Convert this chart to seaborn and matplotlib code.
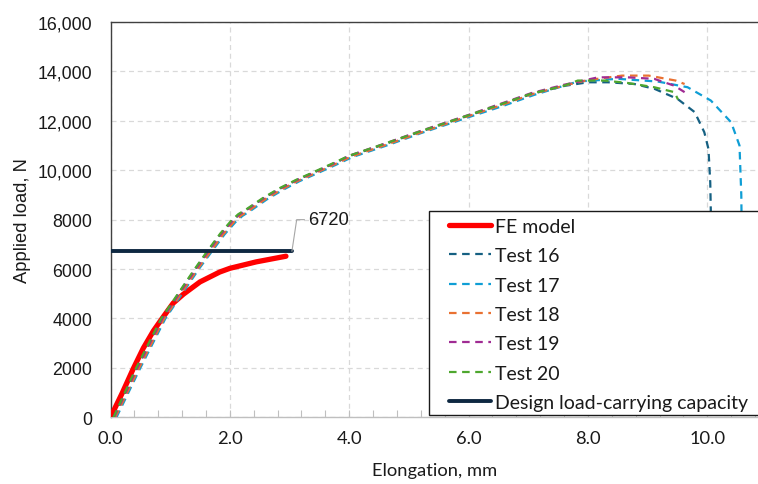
import matplotlib
matplotlib.use("Agg")
import matplotlib.pyplot as plt
from matplotlib.ticker import MultipleLocator, FixedLocator
from matplotlib.patches import Rectangle
import seaborn as sns
import pandas as pd

# ---- data -------------------------------------------------------------
fe_x = [0.00, 0.20, 0.38, 0.55, 0.72, 0.88, 1.05, 1.22, 1.50, 1.83, 2.00, 2.44, 2.94]
fe_y = [0, 1000, 1960, 2800, 3500, 4050, 4620, 4980, 5480, 5880, 6030, 6290, 6520]

t16_x = [0.05, 0.44, 0.86, 1.14, 1.42, 1.63, 1.85, 2.03, 2.15, 2.28, 2.56, 2.84, 3.12,
         3.40, 3.79, 4.00, 4.60, 5.17, 6.00, 6.50, 7.06, 7.62, 8.00, 8.34, 8.78, 9.12,
         9.50, 9.79, 9.95, 10.02, 10.05, 10.07]
t16_y = [0, 2000, 4000, 5000, 6000, 6720, 7430, 7930, 8200, 8400, 8860, 9260, 9600,
         9900, 10330, 10570, 11060, 11540, 12210, 12620, 13090, 13420, 13560, 13560,
         13490, 13290, 12890, 12350, 11540, 10860, 9500, 7000]

t17_x = [0.10, 0.50, 0.92, 1.20, 1.48, 1.70, 1.91, 2.09, 2.21, 2.34, 2.62, 2.90, 3.17,
         3.45, 3.84, 4.05, 4.65, 5.20, 6.03, 6.55, 7.10, 7.83, 8.50, 9.17, 9.67, 10.06,
         10.40, 10.54, 10.57, 10.58]
t17_y = [0, 2000, 4000, 5000, 6000, 6720, 7400, 7890, 8150, 8350, 8820, 9220, 9560,
         9860, 10290, 10530, 11020, 11500, 12170, 12580, 13050, 13590, 13700, 13590,
         13360, 12820, 11940, 11000, 9000, 7000]

t18_x = [0.08, 0.48, 0.90, 1.18, 1.46, 1.68, 1.89, 2.07, 2.19, 2.32, 2.60, 2.88, 3.15,
         3.43, 3.82, 4.03, 4.63, 5.19, 6.01, 6.52, 7.08, 7.64, 8.00, 8.57, 9.02, 9.47,
         9.62]
t18_y = [0, 2000, 4000, 5000, 6000, 6720, 7410, 7910, 8170, 8370, 8840, 9240, 9580,
         9880, 10310, 10550, 11040, 11520, 12200, 12610, 13090, 13450, 13650, 13830,
         13830, 13630, 13490]

t19_x = [0.06, 0.45, 0.87, 1.15, 1.43, 1.64, 1.86, 2.04, 2.16, 2.29, 2.57, 2.85, 3.13,
         3.41, 3.80, 4.00, 4.60, 5.16, 5.99, 6.49, 7.05, 7.60, 8.17, 8.67, 9.11, 9.45,
         9.62]
t19_y = [0, 2000, 4000, 5000, 6000, 6720, 7440, 7940, 8210, 8410, 8870, 9270, 9610,
         9910, 10340, 10590, 11080, 11560, 12230, 12650, 13120, 13460, 13760, 13760,
         13700, 13420, 13160]

t20_x = [0.05, 0.43, 0.85, 1.13, 1.41, 1.62, 1.84, 2.02, 2.14, 2.27, 2.55, 2.83, 3.11,
         3.39, 3.78, 3.99, 4.59, 5.16, 5.99, 6.49, 7.05, 7.61, 7.83, 8.28, 8.67, 9.11,
         9.45, 9.51]
t20_y = [0, 2000, 4000, 5000, 6000, 6720, 7440, 7950, 8220, 8410, 8870, 9270, 9610,
         9910, 10340, 10580, 11070, 11550, 12220, 12630, 13100, 13430, 13630, 13630,
         13530, 13360, 13160, 12860]

capacity = 6720
design_x = [0.0, 3.04]

series = [
    ("Test 16", t16_x, t16_y, "#156082"),
    ("Test 17", t17_x, t17_y, "#0F9ED5"),
    ("Test 18", t18_x, t18_y, "#E97132"),
    ("Test 19", t19_x, t19_y, "#A02B93"),
    ("Test 20", t20_x, t20_y, "#4EA72E"),
]

x_ticks = [0, 2, 4, 6, 8, 10]
x_tick_labels = ["0.0", "2.0", "4.0", "6.0", "8.0", "10.0"]
y_ticks = [0, 2000, 4000, 6000, 8000, 10000, 12000, 14000, 16000]
y_tick_labels = ["0", "2000", "4000", "6000", "8000", "10,000", "12,000", "14,000", "16,000"]

# ---- styling ----------------------------------------------------------
sns.set_style("white")
plt.rcParams["font.family"] = ["Lato", "DejaVu Sans"]
ARIAL = "Liberation Sans"
NARROW = "Lato"
INK = "#1a1a1a"

fig = plt.figure(figsize=(7.58, 4.85), dpi=100)
ax = fig.add_axes([110.5 / 758, (485 - 418.3) / 485, 1 - 110.5 / 758, (418.3 - 23) / 485])

# ---- curves -----------------------------------------------------------
sns.lineplot(data=pd.DataFrame({"x": fe_x, "y": fe_y}), x="x", y="y", ax=ax,
             sort=False, estimator=None, color="#FF0000", lw=3.8,
             solid_capstyle="round", solid_joinstyle="round",
             label="FE model", legend=False, zorder=3)

for name, xs, ys, col in series:
    sns.lineplot(data=pd.DataFrame({"x": xs, "y": ys}), x="x", y="y", ax=ax,
                 sort=False, estimator=None, color=col, lw=1.6,
                 label=name, legend=False, zorder=4)
    ax.lines[-1].set_dashes([3.4, 2.5])

sns.lineplot(data=pd.DataFrame({"x": design_x, "y": [capacity, capacity]}), x="x", y="y",
             ax=ax, sort=False, estimator=None, color="#0E2841", lw=2.8,
             label="Design load-carrying capacity", legend=False, zorder=5)

# value label with leader line
lx0 = design_x[-1]
ax.plot([lx0, lx0 + 0.08, lx0 + 0.21], [capacity, 8000, 8000], color="#A6A6A6", lw=0.8, zorder=5)
ax.text(lx0 + 0.27, 8000, f"{capacity}", family=ARIAL, fontsize=13.2,
        va="center", ha="left", color=INK, zorder=6)

# ---- axes -------------------------------------------------------------
ax.set_xlim(0, 10.85)
ax.set_ylim(0, 16000)
ax.xaxis.set_major_locator(FixedLocator(x_ticks))
ax.set_xticklabels(x_tick_labels, family=NARROW, fontsize=13.2, color=INK)
ax.xaxis.set_minor_locator(MultipleLocator(0.4))
ax.yaxis.set_major_locator(FixedLocator(y_ticks))
ax.set_yticklabels(y_tick_labels, family=ARIAL, fontsize=12.8, color=INK)

ax.tick_params(axis="x", which="both", direction="in", length=5, width=0.8,
               color="#BFBFBF", pad=9, bottom=True)
ax.tick_params(axis="y", which="both", length=0, pad=13)

ax.grid(True, which="major", color="#D9D9D9", lw=0.9, ls=(0, (4, 3)))
ax.set_axisbelow(True)

ax.spines["right"].set_visible(False)
ax.spines["left"].set_color("#404040")
ax.spines["top"].set_color("#404040")
ax.spines["bottom"].set_color("#BFBFBF")
for s in ax.spines.values():
    s.set_linewidth(1.0)

ax.set_xlabel("Elongation, mm", family=NARROW, fontsize=13.2, color=INK, labelpad=12)
ax.set_ylabel("Applied load, N", family=ARIAL, fontsize=13.2, color=INK, labelpad=5)

# ---- legend -----------------------------------------------------------
fig.patches.append(Rectangle((429 / 758, 1 - 416 / 485), 0.6, (416 - 211.5) / 485,
                             transform=fig.transFigure, facecolor="white",
                             edgecolor=INK, lw=1.0, zorder=2))
handles, labels = ax.get_legend_handles_labels()
leg = fig.legend(handles, labels, loc="upper left",
                 bbox_to_anchor=(445 / 758, 1 - 215 / 485), frameon=False,
                 prop={"family": NARROW, "size": 14.0}, handlelength=2.15,
                 handletextpad=0.2, labelspacing=0.635, borderpad=0.2,
                 borderaxespad=0)
leg.set_zorder(3)
for t in leg.get_texts():
    t.set_color(INK)

fig.savefig("out.png", dpi=100)
